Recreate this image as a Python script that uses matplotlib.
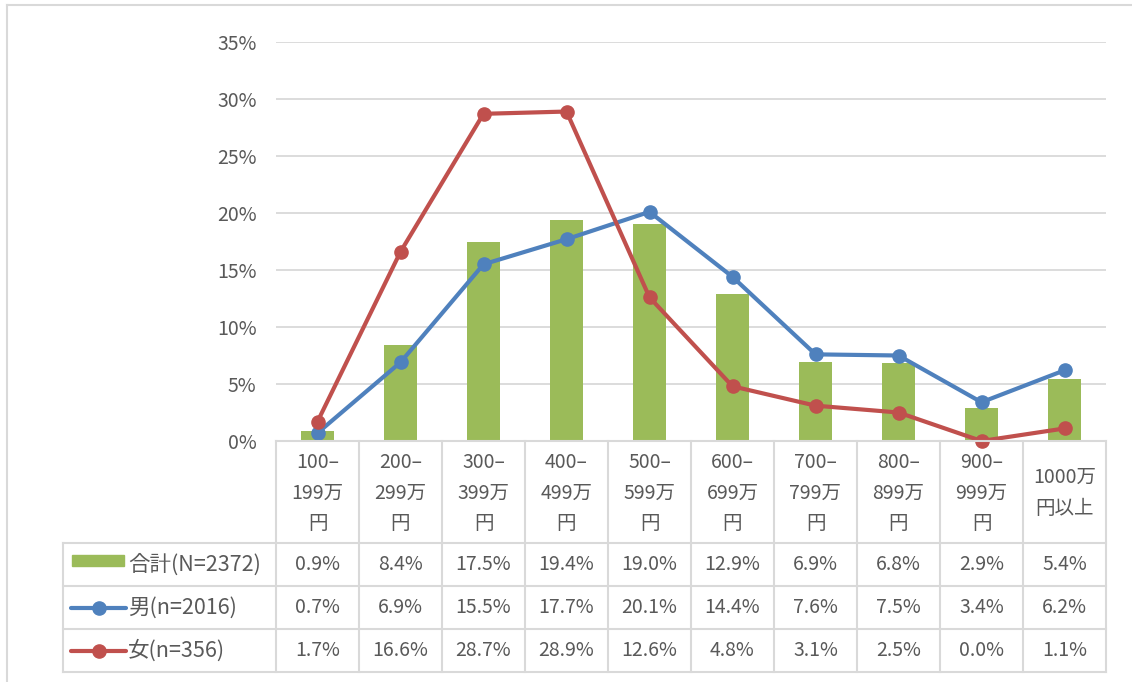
import matplotlib
matplotlib.use("Agg")
import matplotlib.pyplot as plt
import matplotlib.transforms as mtransforms
from matplotlib.lines import Line2D
from matplotlib.patches import Rectangle

plt.rcParams['font.family'] = ['Noto Sans CJK JP', 'DejaVu Sans']

categories = ["100–\n199万\n円", "200–\n299万\n円", "300–\n399万\n円", "400–\n499万\n円",
              "500–\n599万\n円", "600–\n699万\n円", "700–\n799万\n円", "800–\n899万\n円",
              "900–\n999万\n円", "1000万\n円以上"]
total = [0.9, 8.4, 17.5, 19.4, 19.0, 12.9, 6.9, 6.8, 2.9, 5.4]
male = [0.7, 6.9, 15.5, 17.7, 20.1, 14.4, 7.6, 7.5, 3.4, 6.2]
female = [1.7, 16.6, 28.7, 28.9, 12.6, 4.8, 3.1, 2.5, 0.0, 1.1]
series_names = ["合計(N=2372)", "男(n=2016)", "女(n=356)"]
yticks = [0, 5, 10, 15, 20, 25, 30, 35]

GREEN = "#9BBB59"
BLUE = "#4F81BD"
RED = "#C0504D"
GRID = "#D9D9D9"
TXT = "#595959"
FS = 14

W, H = 1132, 682
fig = plt.figure(figsize=(W / 100, H / 100), dpi=100)

def fy(y):
    return 1 - y / H

ax_l, ax_r, ax_t, ax_b = 276, 1106, 42, 441
ax = fig.add_axes([ax_l / W, fy(ax_b), (ax_r - ax_l) / W, (ax_b - ax_t) / H])
n = len(categories)
xs = list(range(n))
ax.bar(xs, total, width=0.4, color=GREEN, zorder=2)
ax.plot(xs, male, color=BLUE, lw=3, marker='o', ms=9.5, zorder=3, solid_capstyle='round', clip_on=False)
ax.plot(xs, female, color=RED, lw=3, marker='o', ms=9.5, zorder=4, solid_capstyle='round', clip_on=False)
ax.set_xlim(-0.5, n - 0.5)
ax.set_ylim(0, 35)
ax.set_yticks(yticks)
ax.set_yticklabels([f"{v}%" for v in yticks], fontsize=FS, color=TXT)
ax.tick_params(axis='y', length=0, pad=14)
ax.set_xticks([])
for s in ax.spines.values():
    s.set_visible(False)
ax.grid(axis='y', color=GRID, lw=1.3, zorder=0)
ax.set_axisbelow(True)

# table
bt = mtransforms.blended_transform_factory(ax.transData, fig.transFigure)
lc = dict(color="#D9D9D9", lw=1.5, transform=fig.transFigure, clip_on=False)
rows_y = [441, 543, 586, 629, 672]
fig.add_artist(Line2D([ax_l / W, ax_r / W], [fy(441), fy(441)], **lc))
for y in rows_y[1:]:
    fig.add_artist(Line2D([63 / W, ax_r / W], [fy(y), fy(y)], **lc))
fig.add_artist(Line2D([63 / W, 63 / W], [fy(543), fy(672)], **lc))
for i in range(n + 1):
    fig.add_artist(Line2D([i - 0.5, i - 0.5], [fy(441), fy(672)], color="#D9D9D9", lw=1.5,
                          transform=bt, clip_on=False))
for i, c in enumerate(categories):
    fig.text(i, fy(493), c, transform=bt, ha='center', va='center', fontsize=FS,
             color=TXT, linespacing=1.6)
for r, vals in enumerate([total, male, female]):
    yc = (rows_y[r + 1] + rows_y[r + 2]) / 2
    for i, v in enumerate(vals):
        fig.text(i, fy(yc), f"{v:.1f}%", transform=bt, ha='center', va='center',
                 fontsize=FS, color=TXT)
    fig.text(128 / W, fy(yc), series_names[r], ha='left', va='center', fontsize=15.5, color=TXT)

# legend keys
fig.add_artist(Rectangle((72 / W, fy(566)), 52 / W, 11 / H, color=GREEN, transform=fig.transFigure))
for r, col in [(1, BLUE), (2, RED)]:
    yc = (rows_y[r + 1] + rows_y[r + 2]) / 2
    fig.add_artist(Line2D([71 / W, 126 / W], [fy(yc), fy(yc)], color=col, lw=3,
                          solid_capstyle='round', transform=fig.transFigure))
    fig.add_artist(Line2D([99 / W], [fy(yc)], color=col, marker='o', ms=9.5,
                          transform=fig.transFigure))

# outer border
fig.add_artist(Line2D([7 / W, 7 / W], [fy(5), 0], color="#D9D9D9", lw=1.5, transform=fig.transFigure))
fig.add_artist(Line2D([7 / W, 1], [fy(5), fy(5)], color="#D9D9D9", lw=1.5, transform=fig.transFigure))

fig.savefig("out.png", dpi=100)
